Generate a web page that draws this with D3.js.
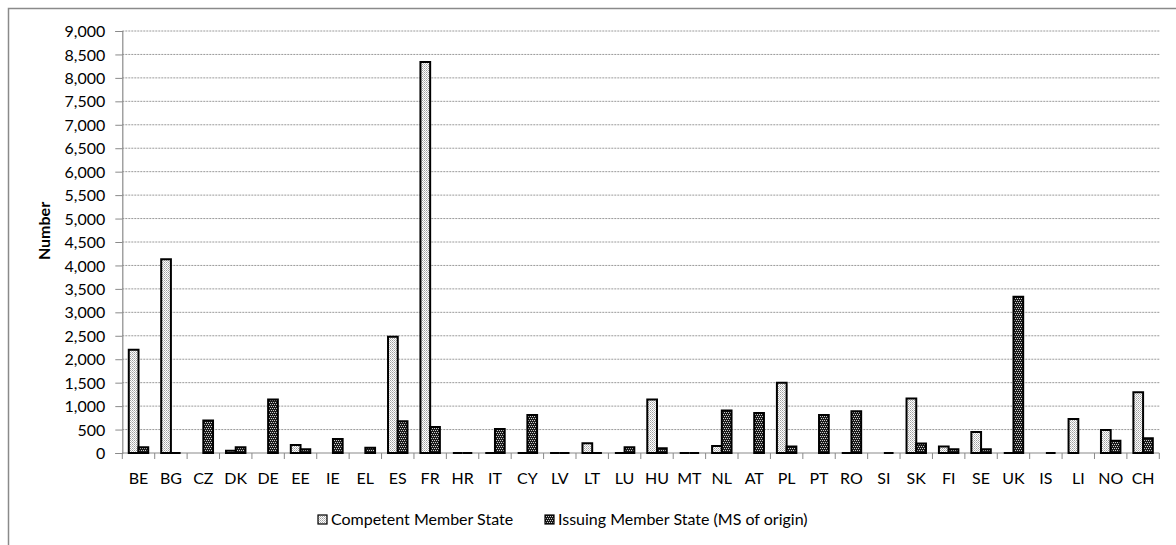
<!DOCTYPE html>
<html>
<head>
<meta charset="utf-8">
<script src="https://cdn.jsdelivr.net/npm/d3@7/dist/d3.min.js"></script>
<style>
  html, body { margin: 0; padding: 0; background: #fff; }
  svg { display: block; }
  text { font-family: Lato, "Open Sans", sans-serif; fill: #000; }
</style>
</head>
<body>
<svg id="chart" width="1176" height="545"></svg>
<script>
// Country codes along the x axis
const categories = ["BE","BG","CZ","DK","DE","EE","IE","EL","ES","FR","HR","IT","CY","LV","LT","LU",
  "HU","MT","NL","AT","PL","PT","RO","SI","SK","FI","SE","UK","IS","LI","NO","CH"];

// Number of cases per country (null = no entry)
const competent = [2200, 4130, null, 50, null, 170, null, null, 2480, 8340, 0, 0, 0, 0, 210, 0,
  1140, 0, 150, null, 1500, null, 0, null, 1160, 140, 450, 0, null, 725, 490, 1295];
const issuing = [120, 0, 695, 120, 1140, 80, 300, 110, 675, 555, 0, 510, 810, 0, 0, 120,
  100, 0, 905, 855, 140, 810, 890, 0, 200, 80, 80, 3330, 0, null, 260, 315];

const seriesNames = ["Competent Member State", "Issuing Member State (MS of origin)"];
const yTicks = d3.range(0, 9001, 500);

const svg = d3.select("#chart");
const margin = { left: 122.3, right: 1159.3, top: 31, bottom: 453 };

// Fill patterns: light dotted for competent, dark dotted for issuing
const defs = svg.append("defs");
const pLight = defs.append("pattern").attr("id", "pat-competent")
  .attr("width", 2).attr("height", 2).attr("patternUnits", "userSpaceOnUse");
pLight.append("rect").attr("width", 2).attr("height", 2).attr("fill", "#fff");
pLight.append("rect").attr("x", 0).attr("y", 0).attr("width", 1).attr("height", 1).attr("fill", "#a0a0a0");
pLight.append("rect").attr("x", 1).attr("y", 1).attr("width", 1).attr("height", 1).attr("fill", "#c0c0c0");

const pDark = defs.append("pattern").attr("id", "pat-issuing")
  .attr("width", 2).attr("height", 4).attr("patternUnits", "userSpaceOnUse");
pDark.append("rect").attr("width", 2).attr("height", 4).attr("fill", "#1a1a1a");
pDark.append("rect").attr("x", 0).attr("y", 0).attr("width", 1).attr("height", 1).attr("fill", "#cfcfcf");
pDark.append("rect").attr("x", 1).attr("y", 2).attr("width", 1).attr("height", 1).attr("fill", "#cfcfcf");

// Outer chart frame
svg.append("rect").attr("x", 8.5).attr("y", 8.5).attr("width", 1200).attr("height", 600)
  .attr("fill", "none").attr("stroke", "#8a8a8a").attr("stroke-width", 1.5);

const x = d3.scaleBand().domain(categories).range([margin.left, margin.right]).padding(0);
const y = d3.scaleLinear().domain([0, 9000]).range([margin.bottom, margin.top]);

// Horizontal gridlines
svg.append("g").selectAll("line").data(yTicks.filter(d => d > 0)).join("line")
  .attr("x1", margin.left).attr("x2", margin.right)
  .attr("y1", d => y(d)).attr("y2", d => y(d))
  .attr("stroke", "#9a9a9a").attr("stroke-width", 1).attr("stroke-dasharray", "2,1");

// Y axis
const yAxis = d3.axisLeft(y).tickValues(yTicks).tickFormat(d3.format(",")).tickSize(7).tickPadding(10);
const gy = svg.append("g").attr("transform", `translate(${margin.left},0)`).call(yAxis);
gy.select(".domain").attr("stroke", "#8a8a8a").attr("stroke-width", 1.2);
gy.selectAll(".tick line").attr("stroke", "#8a8a8a");
gy.selectAll("text").style("font-size", "16px").attr("dy", "0.35em");

// X axis with ticks between categories
const gx = svg.append("g").attr("transform", `translate(0,${margin.bottom})`);
gx.append("line").attr("x1", margin.left).attr("x2", margin.right)
  .attr("stroke", "#8a8a8a").attr("stroke-width", 1.2);
gx.selectAll("line.tk").data(d3.range(categories.length + 1)).join("line")
  .attr("class", "tk")
  .attr("x1", i => margin.left + i * x.step()).attr("x2", i => margin.left + i * x.step())
  .attr("y1", 0).attr("y2", 6).attr("stroke", "#8a8a8a");
gx.selectAll("text").data(categories).join("text")
  .attr("x", d => x(d) + x.bandwidth() / 2).attr("y", 31)
  .attr("text-anchor", "middle").style("font-size", "16px").text(d => d);

// Bars (zero values show as a flat outline on the axis)
const barW = x.step() * 0.3;
const barPath = (cx, v) => {
  const y0 = y(0), y1 = y(v);
  return `M${cx},${y0}V${y1}H${cx + barW}V${y0}Z`;
};
const rows = categories.map((c, i) => ({ c, comp: competent[i], iss: issuing[i] }));
const gBars = svg.append("g");
gBars.selectAll("path.comp").data(rows.filter(d => d.comp !== null)).join("path")
  .attr("class", "comp")
  .attr("d", d => barPath(x(d.c) + x.bandwidth() / 2 - barW, d.comp))
  .attr("fill", "url(#pat-competent)").attr("stroke", "#000").attr("stroke-width", 2);
gBars.selectAll("path.iss").data(rows.filter(d => d.iss !== null)).join("path")
  .attr("class", "iss")
  .attr("d", d => barPath(x(d.c) + x.bandwidth() / 2, d.iss))
  .attr("fill", "url(#pat-issuing)").attr("stroke", "#000").attr("stroke-width", 2);

// Y axis title
svg.append("text").attr("transform", "translate(50,231) rotate(-90)")
  .attr("text-anchor", "middle").style("font-size", "16px").style("font-weight", "bold")
  .text("Number");

// Legend
const legend = [
  { name: seriesNames[0], fill: "url(#pat-competent)", x: 318 },
  { name: seriesNames[1], fill: "url(#pat-issuing)", x: 545 }
];
const gl = svg.append("g");
legend.forEach(l => {
  gl.append("rect").attr("x", l.x).attr("y", 515).attr("width", 9).attr("height", 9)
    .attr("fill", l.fill).attr("stroke", "#000").attr("stroke-width", 1.2);
  gl.append("text").attr("x", l.x + 13).attr("y", 524.5).style("font-size", "16px").text(l.name);
});
</script>
</body>
</html>
